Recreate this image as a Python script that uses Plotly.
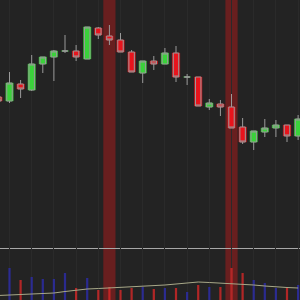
import plotly.graph_objects as go

# candle index (trading-day position)
idx = list(range(-1, 27))

open_ = [70.2, 69.4, 72.8, 71.6, 76.8, 78.2, 79.4, 79.4, 77.8, 84.0, 82.4, 81.6, 79.2, 75.0,
         77.4, 76.8, 79.0, 74.2, 74.2, 68.2, 68.8, 68.2, 64.2, 61.2, 63.2, 64.0, 64.6, 62.4]
high = [70.8, 75.2, 73.6, 78.6, 78.2, 79.6, 82.6, 80.6, 84.2, 84.2, 84.6, 83.0, 79.6, 77.4,
        78.4, 80.0, 80.4, 74.8, 74.2, 69.8, 69.6, 70.8, 66.0, 63.4, 65.8, 65.6, 64.6, 66.6]
low = [68.8, 69.0, 70.0, 71.4, 75.0, 73.4, 79.0, 77.4, 77.8, 81.8, 80.6, 79.2, 75.2, 73.0,
       75.6, 76.8, 73.2, 72.6, 68.4, 67.6, 66.4, 64.0, 60.8, 59.6, 62.2, 62.2, 61.2, 61.6]
close = [69.4, 73.0, 71.8, 76.8, 78.2, 79.4, 79.4, 78.2, 84.2, 82.6, 81.6, 79.2, 75.2, 77.4,
         76.8, 79.0, 74.2, 74.2, 68.4, 69.0, 68.2, 64.0, 61.2, 63.4, 64.0, 64.6, 62.4, 65.8]
volume = [10, 32, 20, 23, 21, 21, 27, 12, 22, 10, 13, 10, 12, 13,
          11, 12, 12, 8, 15, 13, 13, 32, 27, 20, 17, 12, 12, 15]
volume_ma = [4.5, 5, 5.3, 5.6, 6, 7, 8.5, 10, 11, 11.5, 12, 12.5, 13, 13.5,
             14, 15, 16, 17, 18, 17.5, 17, 16.5, 16, 15, 14, 13, 12.5, 12]
highlight_idx = [9, 20]

UP, DOWN = "#3ad23a", "#e8141c"
BG = "#232323"
GRID = "#2a2a2a"

up = [c >= o for o, c in zip(open_, close)]
body_col = [UP if u else DOWN for u in up]
vol_col = ["rgba(45,45,190,0.7)" if u else "rgba(225,40,40,0.75)" for u in up]

fig = go.Figure()
fig.add_trace(go.Candlestick(
    x=idx, open=open_, high=high, low=low, close=close,
    increasing=dict(line=dict(color="#9a9a9a", width=1), fillcolor="rgba(0,0,0,0)"),
    decreasing=dict(line=dict(color="#9a9a9a", width=1), fillcolor="rgba(0,0,0,0)"),
    whiskerwidth=0, xaxis="x", yaxis="y", hoverinfo="skip"))
fig.add_trace(go.Bar(
    x=idx, y=[c - o for o, c in zip(open_, close)], base=open_, width=0.66,
    marker=dict(color=body_col, line=dict(color=body_col, width=0.5)),
    xaxis="x", yaxis="y"))
fig.add_trace(go.Bar(
    x=idx, y=volume, width=0.2, marker=dict(color=vol_col, line=dict(width=0)),
    xaxis="x2", yaxis="y2"))
fig.add_trace(go.Scatter(
    x=idx, y=volume_ma, mode="lines", line=dict(color="#a8a888", width=1),
    xaxis="x2", yaxis="y2"))

for h in highlight_idx:
    fig.add_shape(type="rect", xref="x", yref="paper", x0=h - 0.55, x1=h + 0.55, y0=0, y1=1,
                  fillcolor="rgba(150,28,28,0.6)", line=dict(width=0), layer="below")

xr = [-0.856, 26.17]
fig.update_layout(
    width=300, height=300, margin=dict(l=0, r=0, t=0, b=0),
    paper_bgcolor=BG, plot_bgcolor=BG, showlegend=False, barmode="overlay",
    xaxis=dict(range=xr, anchor="y", showgrid=True, gridcolor=GRID, gridwidth=1,
               tick0=0, dtick=2, showticklabels=False, zeroline=False,
               showline=True, linecolor="#a8a8a8", linewidth=1,
               rangeslider=dict(visible=False)),
    yaxis=dict(domain=[0.1733, 1], range=[40, 89.6], showgrid=False, zeroline=False,
               showticklabels=False),
    xaxis2=dict(range=xr, anchor="y2", matches="x", showgrid=True, gridcolor=GRID,
                tick0=0, dtick=2, showticklabels=False, zeroline=False),
    yaxis2=dict(domain=[0, 0.1733], range=[0, 52], showgrid=False, zeroline=False,
                showticklabels=False),
)

fig.write_html("out.html")
